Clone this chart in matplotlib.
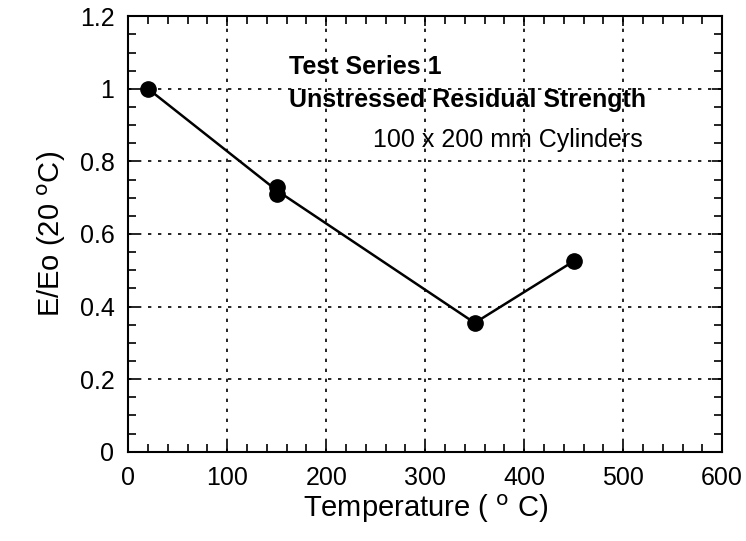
import matplotlib.pyplot as plt
from matplotlib.ticker import MultipleLocator

plt.rcParams['font.family'] = ['Liberation Sans', 'DejaVu Sans']

# measured points
temp = [20, 150, 150, 350, 450]
ratio = [1.0, 0.73, 0.71, 0.355, 0.525]

# trend line through the points (mean at 150)
line_temp = [20, 150, 350, 450]
line_ratio = [1.0, 0.72, 0.355, 0.525]

fig, ax = plt.subplots(figsize=(7.46, 5.41), dpi=100)
fig.subplots_adjust(left=0.172, right=0.968, top=0.97, bottom=0.165)

ax.plot(line_temp, line_ratio, color='black', lw=1.8, zorder=3)
ax.plot(temp, ratio, 'o', color='black', ms=11, zorder=4)

ax.set_xlim(0, 600)
ax.set_ylim(0, 1.2)
ax.xaxis.set_major_locator(MultipleLocator(100))
ax.xaxis.set_minor_locator(MultipleLocator(20))
ax.yaxis.set_major_locator(MultipleLocator(0.2))
ax.yaxis.set_minor_locator(MultipleLocator(0.05))
ax.set_yticks([0, 0.2, 0.4, 0.6, 0.8, 1.0, 1.2])
ax.set_yticklabels(['0', '0.2', '0.4', '0.6', '0.8', '1', '1.2'])

ax.tick_params(which='both', direction='in', top=True, right=True,
               labelsize=18, width=1.2)
ax.tick_params(which='major', length=7, pad=10)
ax.tick_params(which='minor', length=6)
for s in ax.spines.values():
    s.set_linewidth(1.5)

ax.grid(True, which='major', color='black', linestyle=(0, (2, 4)), lw=1.2)

ax.set_xlabel(r'Temperature ( $^{\mathrm{o}}$ C)', fontsize=21, labelpad=2)
ax.set_ylabel(r'E/Eo (20 $^{\mathrm{o}}$C)', fontsize=21, labelpad=8)

ax.text(162, 1.06, 'Test Series 1', fontsize=18, fontweight='bold', va='center')
ax.text(162, 0.97, 'Unstressed Residual Strength', fontsize=18,
        fontweight='bold', va='center')
ax.text(247, 0.86, '100 x 200 mm Cylinders', fontsize=18, va='center')

fig.savefig('out.png', dpi=100)
